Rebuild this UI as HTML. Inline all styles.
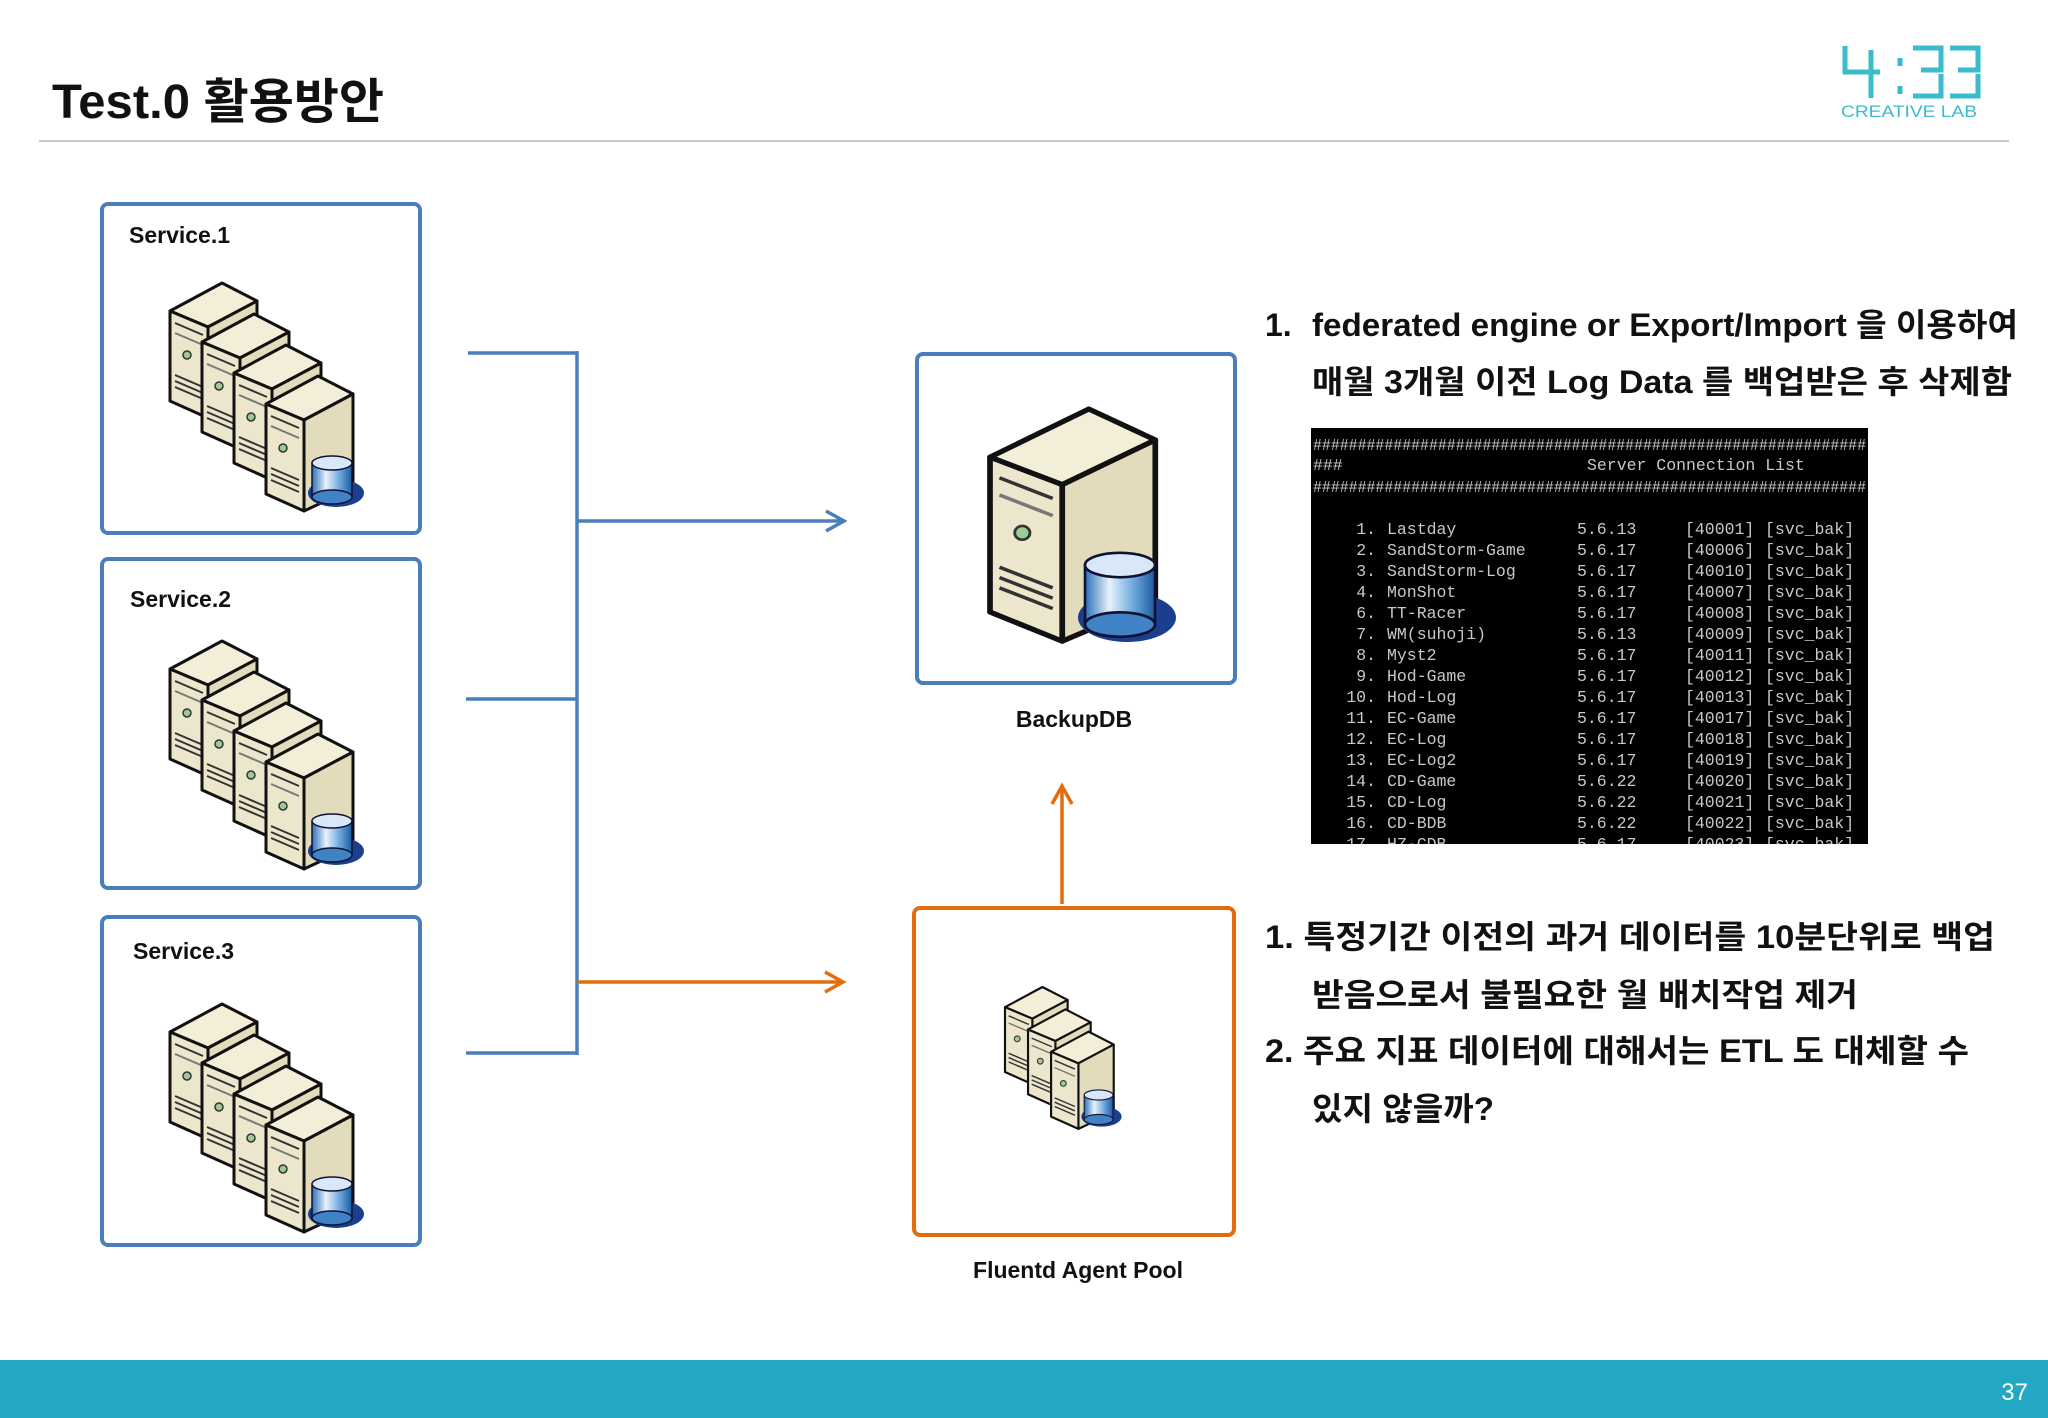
<!DOCTYPE html>
<html><head><meta charset="utf-8"><style>
html,body{margin:0;padding:0;background:#fff;}
svg{display:block;}
text{font-family:"Liberation Sans","Noto Sans CJK KR",sans-serif;}
.k{font-weight:bold;font-size:32px;fill:#111;}
.m{font-family:"Liberation Mono",monospace;font-size:16.5px;fill:#c8c8c8;}
</style></head><body>
<svg width="2048" height="1418" viewBox="0 0 2048 1418" xmlns="http://www.w3.org/2000/svg">
<defs>
<linearGradient id="cyl" x1="0" x2="1" y1="0" y2="0">
<stop offset="0" stop-color="#2a6fb8"/><stop offset="0.35" stop-color="#e8f2fb"/><stop offset="0.7" stop-color="#6aa6dc"/><stop offset="1" stop-color="#1d5aa0"/>
</linearGradient>
<g id="srv">
<polygon points="0,28 52,0 87,18 38,44" fill="#f2eed8" stroke="#111" stroke-width="3" stroke-linejoin="round"/>
<polygon points="38,44 87,18 87,112 38,135" fill="#e2dcbc" stroke="#111" stroke-width="3" stroke-linejoin="round"/>
<polygon points="0,28 38,44 38,135 0,118" fill="#ece7cc" stroke="#111" stroke-width="3" stroke-linejoin="round"/>
<line x1="5" y1="40" x2="33" y2="52" stroke="#333" stroke-width="2"/>
<line x1="5" y1="50" x2="33" y2="62" stroke="#777" stroke-width="2"/>
<circle cx="17" cy="72" r="4" fill="#9c9" stroke="#333" stroke-width="1.5"/>
<line x1="5" y1="92" x2="33" y2="104" stroke="#333" stroke-width="2"/>
<line x1="5" y1="98" x2="33" y2="110" stroke="#333" stroke-width="2"/>
<line x1="5" y1="104" x2="33" y2="116" stroke="#333" stroke-width="2"/>
</g>
<g id="db">
<ellipse cx="4" cy="30" rx="28" ry="14" fill="#1a3f8f"/>
<rect x="-20" y="0" width="40" height="34" fill="url(#cyl)" stroke="#113" stroke-width="1.5"/>
<ellipse cx="0" cy="34" rx="20" ry="7" fill="#3f82c6" stroke="#113" stroke-width="1.5"/>
<ellipse cx="0" cy="0" rx="20" ry="7" fill="#d8e8f8" stroke="#113" stroke-width="1.5"/>
</g>
<g id="stack">
<use href="#srv" x="0" y="0"/><use href="#srv" x="32" y="31"/><use href="#srv" x="64" y="62"/><use href="#srv" x="96" y="93"/>
<use href="#db" x="162" y="180"/>
</g>
<g id="three"><polyline points="0,2 28,2 28,24 8,24"/><polyline points="28,28 28,50 0,50"/></g>
</defs>

<!-- title -->
<text x="52" y="118" font-size="48" font-weight="bold" fill="#111" textLength="332" lengthAdjust="spacingAndGlyphs">Test.0 활용방안</text>
<line x1="39" y1="141" x2="2009" y2="141" stroke="#c8c8c8" stroke-width="2"/>
<g stroke="#3bbccc" stroke-width="5" fill="none">
<polyline points="1845,46 1845,72 1880,72"/><line x1="1871" y1="50" x2="1871" y2="98"/>
<line x1="1900" y1="58" x2="1900" y2="66"/><line x1="1900" y1="86" x2="1900" y2="94"/>
<use href="#three" x="1913" y="46"/><use href="#three" x="1950" y="46"/>
</g>
<text x="1841" y="117" font-size="17" fill="#3bbccc" font-family="Liberation Mono,monospace" textLength="136" lengthAdjust="spacingAndGlyphs">CREATIVE LAB</text>

<!-- service boxes -->
<rect x="102" y="204" width="318" height="329" rx="6" fill="#fff" stroke="#4a7ebb" stroke-width="4"/>
<rect x="102" y="559" width="318" height="329" rx="6" fill="#fff" stroke="#4a7ebb" stroke-width="4"/>
<rect x="102" y="917" width="318" height="328" rx="6" fill="#fff" stroke="#4a7ebb" stroke-width="4"/>
<text x="129" y="243" font-size="23" font-weight="bold" fill="#111">Service.1</text>
<text x="130" y="607" font-size="23" font-weight="bold" fill="#111">Service.2</text>
<text x="133" y="959" font-size="23" font-weight="bold" fill="#111">Service.3</text>
<use href="#stack" x="170" y="283"/>
<use href="#stack" x="170" y="641"/>
<use href="#stack" x="170" y="1004"/>

<!-- connectors -->
<g stroke="#4a7ebb" stroke-width="3.5" fill="none">
<line x1="468" y1="353" x2="578" y2="353"/>
<line x1="466" y1="699" x2="578" y2="699"/>
<line x1="466" y1="1053" x2="578" y2="1053"/>
<line x1="577" y1="351" x2="577" y2="1055"/>
<line x1="577" y1="521" x2="844" y2="521"/>
<polyline points="826,511 844,521 826,531"/>
</g>
<g stroke="#e46c0a" stroke-width="3.5" fill="none">
<line x1="577" y1="982" x2="843" y2="982"/>
<polyline points="825,972 843,982 825,992"/>
<line x1="1062" y1="904" x2="1062" y2="786"/>
<polyline points="1052,804 1062,786 1072,804"/>
</g>

<!-- backup db -->
<rect x="917" y="354" width="318" height="329" rx="6" fill="#fff" stroke="#4a7ebb" stroke-width="4"/>
<g transform="translate(990,409) scale(1.9,1.72)"><use href="#srv"/></g>
<g transform="translate(1120,565) scale(1.75)"><use href="#db"/></g>
<text x="1074" y="727" font-size="23" font-weight="bold" fill="#111" text-anchor="middle">BackupDB</text>

<!-- fluentd -->
<rect x="914" y="908" width="320" height="327" rx="6" fill="#fff" stroke="#e46c0a" stroke-width="4"/>
<g transform="translate(1005,987) scale(0.72)">
<use href="#srv" x="0" y="0"/><use href="#srv" x="32" y="31"/><use href="#srv" x="64" y="62"/>
<use href="#db" x="130" y="150"/>
</g>
<text x="1078" y="1278" font-size="23" font-weight="bold" fill="#111" text-anchor="middle">Fluentd Agent Pool</text>

<!-- right text -->
<text class="k" x="1265" y="336">1.</text>
<text class="k" x="1312" y="336" textLength="706" lengthAdjust="spacingAndGlyphs">federated engine or Export/Import 을 이용하여</text>
<text class="k" x="1312" y="393" textLength="700" lengthAdjust="spacingAndGlyphs">매월 3개월 이전 Log Data 를 백업받은 후 삭제함</text>

<svg x="1311" y="428" width="557" height="416" viewBox="1311 428 557 416" overflow="hidden">
<rect x="1311" y="428" width="557" height="416" fill="#000"/>
<text class="m" x="1313" y="450" textLength="553" lengthAdjust="spacingAndGlyphs">##############################################################</text>
<text class="m" x="1313" y="470">###</text>
<text class="m" x="1587" y="470">Server Connection List</text>
<text class="m" x="1313" y="492" textLength="553" lengthAdjust="spacingAndGlyphs">##############################################################</text>
<text class="m" x="1376" y="534" text-anchor="end">1.</text><text class="m" x="1387" y="534">Lastday</text><text class="m" x="1577" y="534">5.6.13</text><text class="m" x="1685" y="534">[40001]</text><text class="m" x="1765" y="534">[svc_bak]</text>
<text class="m" x="1376" y="555" text-anchor="end">2.</text><text class="m" x="1387" y="555">SandStorm-Game</text><text class="m" x="1577" y="555">5.6.17</text><text class="m" x="1685" y="555">[40006]</text><text class="m" x="1765" y="555">[svc_bak]</text>
<text class="m" x="1376" y="576" text-anchor="end">3.</text><text class="m" x="1387" y="576">SandStorm-Log</text><text class="m" x="1577" y="576">5.6.17</text><text class="m" x="1685" y="576">[40010]</text><text class="m" x="1765" y="576">[svc_bak]</text>
<text class="m" x="1376" y="597" text-anchor="end">4.</text><text class="m" x="1387" y="597">MonShot</text><text class="m" x="1577" y="597">5.6.17</text><text class="m" x="1685" y="597">[40007]</text><text class="m" x="1765" y="597">[svc_bak]</text>
<text class="m" x="1376" y="618" text-anchor="end">6.</text><text class="m" x="1387" y="618">TT-Racer</text><text class="m" x="1577" y="618">5.6.17</text><text class="m" x="1685" y="618">[40008]</text><text class="m" x="1765" y="618">[svc_bak]</text>
<text class="m" x="1376" y="639" text-anchor="end">7.</text><text class="m" x="1387" y="639">WM(suhoji)</text><text class="m" x="1577" y="639">5.6.13</text><text class="m" x="1685" y="639">[40009]</text><text class="m" x="1765" y="639">[svc_bak]</text>
<text class="m" x="1376" y="660" text-anchor="end">8.</text><text class="m" x="1387" y="660">Myst2</text><text class="m" x="1577" y="660">5.6.17</text><text class="m" x="1685" y="660">[40011]</text><text class="m" x="1765" y="660">[svc_bak]</text>
<text class="m" x="1376" y="681" text-anchor="end">9.</text><text class="m" x="1387" y="681">Hod-Game</text><text class="m" x="1577" y="681">5.6.17</text><text class="m" x="1685" y="681">[40012]</text><text class="m" x="1765" y="681">[svc_bak]</text>
<text class="m" x="1376" y="702" text-anchor="end">10.</text><text class="m" x="1387" y="702">Hod-Log</text><text class="m" x="1577" y="702">5.6.17</text><text class="m" x="1685" y="702">[40013]</text><text class="m" x="1765" y="702">[svc_bak]</text>
<text class="m" x="1376" y="723" text-anchor="end">11.</text><text class="m" x="1387" y="723">EC-Game</text><text class="m" x="1577" y="723">5.6.17</text><text class="m" x="1685" y="723">[40017]</text><text class="m" x="1765" y="723">[svc_bak]</text>
<text class="m" x="1376" y="744" text-anchor="end">12.</text><text class="m" x="1387" y="744">EC-Log</text><text class="m" x="1577" y="744">5.6.17</text><text class="m" x="1685" y="744">[40018]</text><text class="m" x="1765" y="744">[svc_bak]</text>
<text class="m" x="1376" y="765" text-anchor="end">13.</text><text class="m" x="1387" y="765">EC-Log2</text><text class="m" x="1577" y="765">5.6.17</text><text class="m" x="1685" y="765">[40019]</text><text class="m" x="1765" y="765">[svc_bak]</text>
<text class="m" x="1376" y="786" text-anchor="end">14.</text><text class="m" x="1387" y="786">CD-Game</text><text class="m" x="1577" y="786">5.6.22</text><text class="m" x="1685" y="786">[40020]</text><text class="m" x="1765" y="786">[svc_bak]</text>
<text class="m" x="1376" y="807" text-anchor="end">15.</text><text class="m" x="1387" y="807">CD-Log</text><text class="m" x="1577" y="807">5.6.22</text><text class="m" x="1685" y="807">[40021]</text><text class="m" x="1765" y="807">[svc_bak]</text>
<text class="m" x="1376" y="828" text-anchor="end">16.</text><text class="m" x="1387" y="828">CD-BDB</text><text class="m" x="1577" y="828">5.6.22</text><text class="m" x="1685" y="828">[40022]</text><text class="m" x="1765" y="828">[svc_bak]</text>
<text class="m" x="1376" y="849" text-anchor="end">17.</text><text class="m" x="1387" y="849">HZ-CDB</text><text class="m" x="1577" y="849">5.6.17</text><text class="m" x="1685" y="849">[40023]</text><text class="m" x="1765" y="849">[svc_bak]</text>
</svg>

<text class="k" x="1265" y="948" textLength="730" lengthAdjust="spacingAndGlyphs">1. 특정기간 이전의 과거 데이터를 10분단위로 백업</text>
<text class="k" x="1312" y="1006" textLength="546" lengthAdjust="spacingAndGlyphs">받음으로서 불필요한 월 배치작업 제거</text>
<text class="k" x="1265" y="1062" textLength="704" lengthAdjust="spacingAndGlyphs">2. 주요 지표 데이터에 대해서는 ETL 도 대체할 수</text>
<text class="k" x="1312" y="1120" textLength="182" lengthAdjust="spacingAndGlyphs">있지 않을까?</text>

<!-- footer -->
<rect x="0" y="1360" width="2048" height="58" fill="#23a8c3"/>
<text x="2028" y="1400" font-size="24" fill="#fff" text-anchor="end">37</text>
</svg>
</body></html>
